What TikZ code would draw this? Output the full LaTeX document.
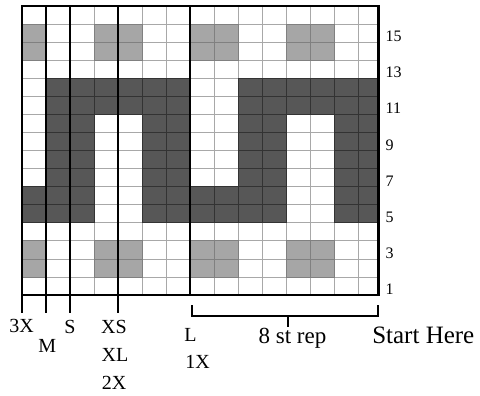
\documentclass[tikz,border=0pt]{standalone}
\usepackage{fontspec}
\setmainfont{Liberation Serif}
\definecolor{darkcell}{HTML}{575757}
\definecolor{greycell}{HTML}{A6A6A6}
\definecolor{gridline}{HTML}{A8A8A8}
\begin{document}
\begin{tikzpicture}[x=1pt,y=-1pt,
  gridthin/.style={draw=gridline,line width=0.7pt},
  greyfill/.style={fill=greycell,draw=black!50,line width=0.7pt},
  darkfill/.style={fill=darkcell,draw=black!80,line width=0.7pt},
  boldline/.style={line width=2.6pt,line cap=rect},
  bracketline/.style={line width=2.2pt},
  sizelab/.style={font=\fontsize{20}{20}\selectfont,anchor=base,inner sep=0pt},
  rowlab/.style={font=\fontsize{16}{16}\selectfont,anchor=base west,inner sep=0pt},
  biglab/.style={font=\fontsize{24}{24}\selectfont,anchor=base,inner sep=0pt}]
\useasboundingbox (0,0) rectangle (480,396);
\def\xo{22}\def\yo{6}\def\cw{24}\def\rh{18.0625}\def\xr{378.5}\def\yb{295}
\begin{scope}
  \clip (\xo,\yo) rectangle (\xr,\yb);
  % thin grid
  \foreach \c in {0,...,15} \draw[gridthin] ({\xo+\c*\cw},\yo) -- ({\xo+\c*\cw},\yb);
  \foreach \r in {0,...,16} \draw[gridthin] (\xo,{\yo+\r*\rh}) -- (\xr,{\yo+\r*\rh});
  % grey cells
  \foreach \r in {2,3,14,15}
    \foreach \c in {1,4,5,8,9,12,13}
      \draw[greyfill] ({\xo+(\c-1)*\cw},{\yo+(16-\r)*\rh}) rectangle +(\cw,\rh);
  % dark cells
  \foreach \r in {5,6}
    \foreach \c in {1,2,3,6,7,8,9,10,11,14,15}
      \draw[darkfill] ({\xo+(\c-1)*\cw},{\yo+(16-\r)*\rh}) rectangle +(\cw,\rh);
  \foreach \r in {7,8,9,10}
    \foreach \c in {2,3,6,7,10,11,14,15}
      \draw[darkfill] ({\xo+(\c-1)*\cw},{\yo+(16-\r)*\rh}) rectangle +(\cw,\rh);
  \foreach \r in {11,12}
    \foreach \c in {2,3,4,5,6,7,10,11,12,13,14,15}
      \draw[darkfill] ({\xo+(\c-1)*\cw},{\yo+(16-\r)*\rh}) rectangle +(\cw,\rh);
\end{scope}
% bold size lines with ticks below
\foreach \k in {1,2,4} \draw[boldline] ({\xo+\k*\cw},\yo) -- ({\xo+\k*\cw},312);
\draw[boldline] ({\xo+7*\cw},\yo) -- ({\xo+7*\cw},\yb);
\draw[boldline] (\xo,312) -- (\xo,\yo) -- (\xr,\yo) -- (\xr,\yb) -- (\xo,\yb);
% bracket
\coordinate (bl) at (191.7,305);
\coordinate (blb) at (191.7,316);
\coordinate (brb) at (377.7,316);
\coordinate (br) at (377.7,305);
\coordinate (bm) at (287.7,316);
\coordinate (bmt) at (287.7,327);
\draw[bracketline] (bl) -- (blb) -- (brb) -- (br);
\draw[bracketline] (bm) -- (bmt);
% row labels
\foreach \r in {1,3,...,15}
  \node[rowlab] (row\r) at (385.5,{\yo+(16-\r+0.5)*\rh+8.6}) {\r};
% size labels
\node[sizelab] (l3x) at (21.5,332.7) {3X};
\node[sizelab] (lm) at (47.3,352.3) {M};
\node[sizelab] (ls) at (70,333.3) {S};
\node[sizelab] (lxs) at (114,333.3) {XS};
\node[sizelab] (lxl) at (115,361.7) {XL};
\node[sizelab] (l2x) at (114,389) {2X};
\node[sizelab] (ll) at (190.5,341.7) {L};
\node[sizelab] (l1x) at (197.7,368.3) {1X};
\node[biglab,font=\fontsize{23}{23}\selectfont] (rep) at (292.5,343) {8 st rep};
\node[biglab,font=\fontsize{25}{25}\selectfont] (start) at (423.3,343.3) {Start Here};
\end{tikzpicture}
\end{document}
